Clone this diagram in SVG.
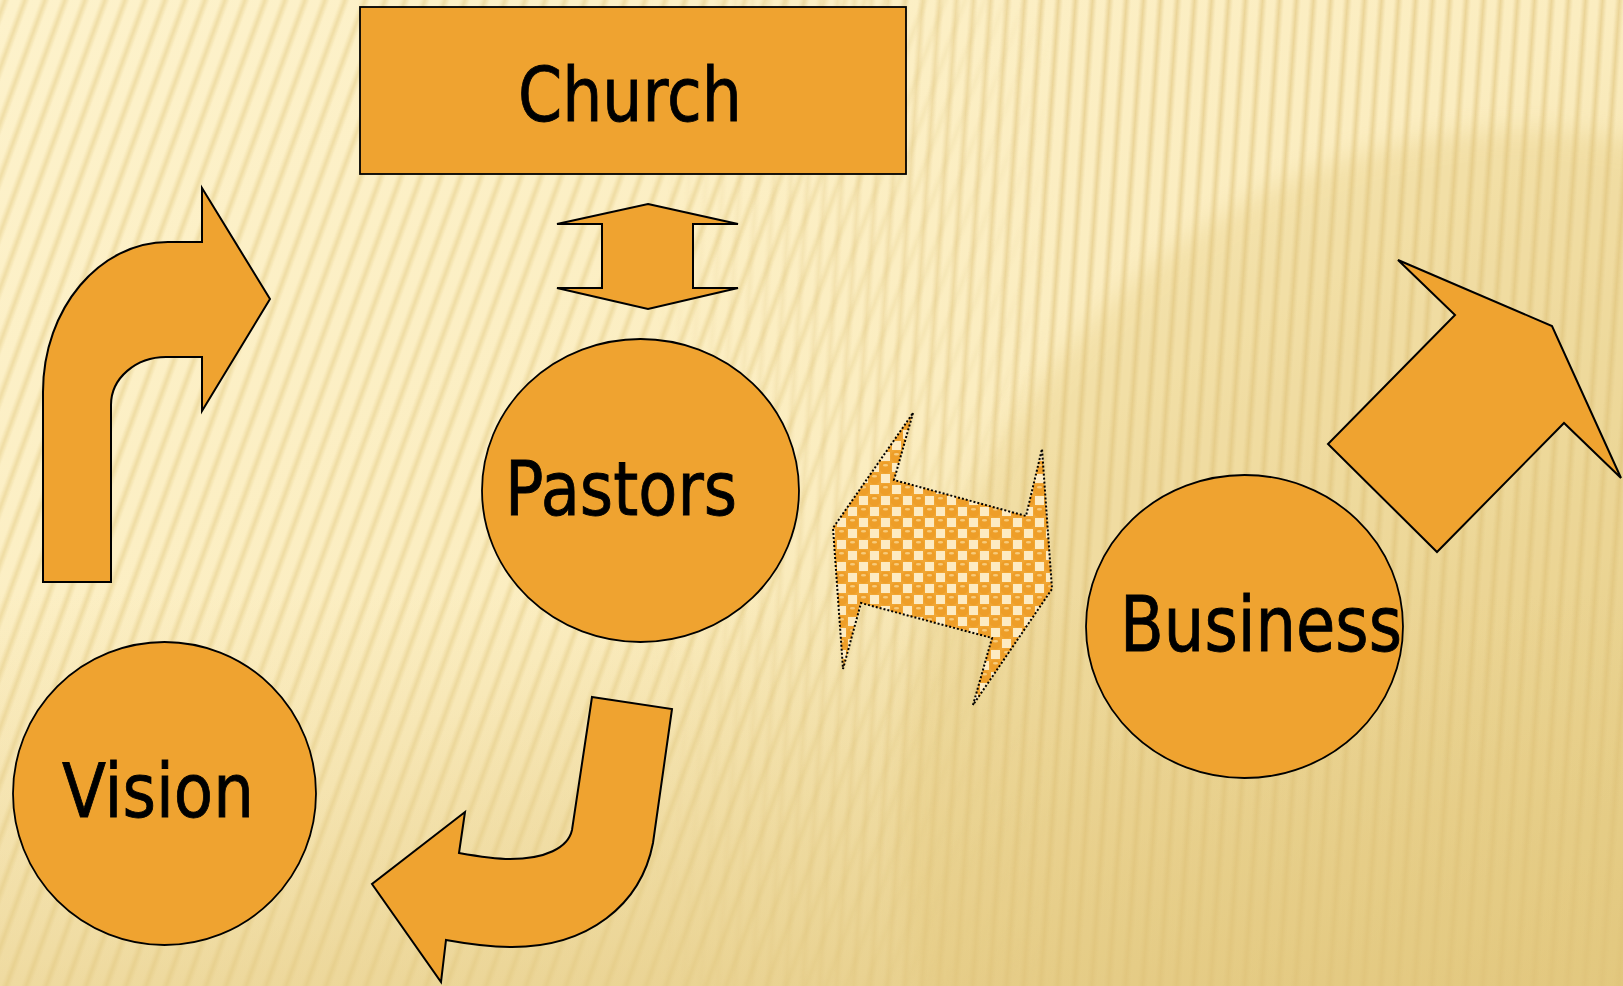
<svg xmlns="http://www.w3.org/2000/svg" width="1623" height="986" viewBox="0 0 1623 986">
<style>
.node{fill:#EFA330;stroke:#000;stroke-width:1.8}
.arrow{fill:#EFA330;stroke:#000;stroke-width:2;stroke-linejoin:miter}
.dotted{fill:url(#dots);stroke:#000;stroke-width:2;stroke-dasharray:2 2}
.label{font-family:"DejaVu Sans","Verdana",sans-serif;font-size:75px;fill:#000;stroke:#000;stroke-width:0.9}
</style>
<defs>
<linearGradient id="bg" x1="0" y1="0" x2="1" y2="1">
<stop offset="0" stop-color="#FDF2CB"/>
<stop offset="0.5" stop-color="#FBEDC0"/>
<stop offset="1" stop-color="#E6CE88"/>
</linearGradient>
<linearGradient id="bottomShade" x1="0" y1="0" x2="0" y2="1">
<stop offset="0.6" stop-color="#E0C47A" stop-opacity="0"/>
<stop offset="1" stop-color="#E0C47A" stop-opacity="0.45"/>
</linearGradient>
<linearGradient id="soft" x1="0" y1="0" x2="1" y2="0">
<stop offset="0" stop-color="#E6CF8C" stop-opacity="0"/>
<stop offset="0.5" stop-color="#E6CF8C" stop-opacity="1"/>
<stop offset="1" stop-color="#E6CF8C" stop-opacity="0"/>
</linearGradient>
<linearGradient id="soft2" x1="0" y1="0" x2="1" y2="0">
<stop offset="0" stop-color="#DDC077" stop-opacity="0"/>
<stop offset="0.5" stop-color="#DDC077" stop-opacity="1"/>
<stop offset="1" stop-color="#DDC077" stop-opacity="0"/>
</linearGradient>
<pattern id="stripesA" width="20" height="40" patternUnits="userSpaceOnUse" patternTransform="skewX(-20)">
<rect x="0" y="0" width="10" height="40" fill="url(#soft)" opacity="0.6"/>
</pattern>
<pattern id="stripesB" width="17" height="40" patternUnits="userSpaceOnUse" patternTransform="skewX(-4)">
<rect x="0" y="0" width="9" height="40" fill="url(#soft2)" opacity="0.55"/>
</pattern>
<linearGradient id="fadeL" x1="0" y1="0" x2="1" y2="0">
<stop offset="0" stop-color="#fff"/>
<stop offset="0.45" stop-color="#fff"/>
<stop offset="0.65" stop-color="#000"/>
</linearGradient>
<linearGradient id="fadeR" x1="0" y1="0" x2="1" y2="0">
<stop offset="0.4" stop-color="#000"/>
<stop offset="0.65" stop-color="#fff"/>
</linearGradient>
<mask id="mL"><rect width="1623" height="986" fill="url(#fadeL)"/></mask>
<mask id="mR"><rect width="1623" height="986" fill="url(#fadeR)"/></mask>
<filter id="blur" x="-20%" y="-20%" width="140%" height="140%"><feGaussianBlur stdDeviation="12"/></filter>
<pattern id="dots" width="22" height="22" patternUnits="userSpaceOnUse">
<rect width="22" height="22" fill="#F1A633"/>
<rect x="12" y="1" width="9" height="9" fill="#FDEBC2"/>
<rect x="1" y="12" width="9" height="9" fill="#FDEBC2"/>
<circle cx="5.5" cy="5.5" r="5.8" fill="#EE9E28"/>
<circle cx="16.5" cy="16.5" r="5.8" fill="#EE9E28"/>
<ellipse cx="5.5" cy="3.3" rx="2.6" ry="1.2" fill="#F8CB7A"/>
<ellipse cx="16.5" cy="14.3" rx="2.6" ry="1.2" fill="#F8CB7A"/>
</pattern>
</defs>

<g id="background">
<rect width="1623" height="986" fill="url(#bg)"/>
<ellipse cx="1520" cy="820" rx="620" ry="690" fill="#E3C677" opacity="0.3" filter="url(#blur)"/>
<rect width="1623" height="986" fill="url(#stripesA)" mask="url(#mL)"/>
<rect width="1623" height="986" fill="url(#stripesB)" mask="url(#mR)"/>
<rect width="1623" height="986" fill="url(#bottomShade)"/>
</g>

<g id="connectors">
<path id="arrow-vision-church" class="arrow" d="M43,582 L43,392 C43,308 100,242 168,242 L202,242 L202,188 L270,299 L202,411 L202,357 L166,357 C136,357 111,378 111,405 L111,582 Z"/>
<polygon id="arrow-church-pastors" class="arrow" points="648,204 738,224 693,224 693,288 738,288 648,309 557,288 602,288 602,224 557,224"/>
<path id="arrow-pastors-vision" class="arrow" d="M592,697 L672,709 L653,843 C641,905 588,947 512,947 C490,947 468,944 446,940 L441,982 L372,884 L465,812 L459,853 C476,856 493,859 510,859 C545,859 568,848 572,830 Z"/>
<polygon id="arrow-pastors-business" class="dotted" points="913,413 894,480 1026,516 1042,449 1052,589 973,705 992,638 861,603 843,669 833,528"/>
<polygon id="arrow-business-out" class="arrow" points="1398,260 1552,326 1621,478 1564,423 1437,552 1328,444 1455,315"/>
</g>

<g id="node-church">
<rect class="node" x="360" y="7" width="546" height="167"/>
<text class="label" x="518" y="121" textLength="224" lengthAdjust="spacingAndGlyphs">Church</text>
</g>

<g id="node-pastors">
<ellipse class="node" cx="640.5" cy="490.5" rx="158.5" ry="151.5"/>
<text class="label" x="505" y="515" textLength="232" lengthAdjust="spacingAndGlyphs">Pastors</text>
</g>

<g id="node-vision">
<ellipse class="node" cx="164.5" cy="793.5" rx="151.5" ry="151.5"/>
<text class="label" x="62" y="817" textLength="192" lengthAdjust="spacingAndGlyphs">Vision</text>
</g>

<g id="node-business">
<ellipse class="node" cx="1244.5" cy="626.5" rx="158.5" ry="151.5"/>
<text class="label" x="1120" y="651" textLength="282" lengthAdjust="spacingAndGlyphs" style="font-size:77px">Business</text>
</g>
</svg>
